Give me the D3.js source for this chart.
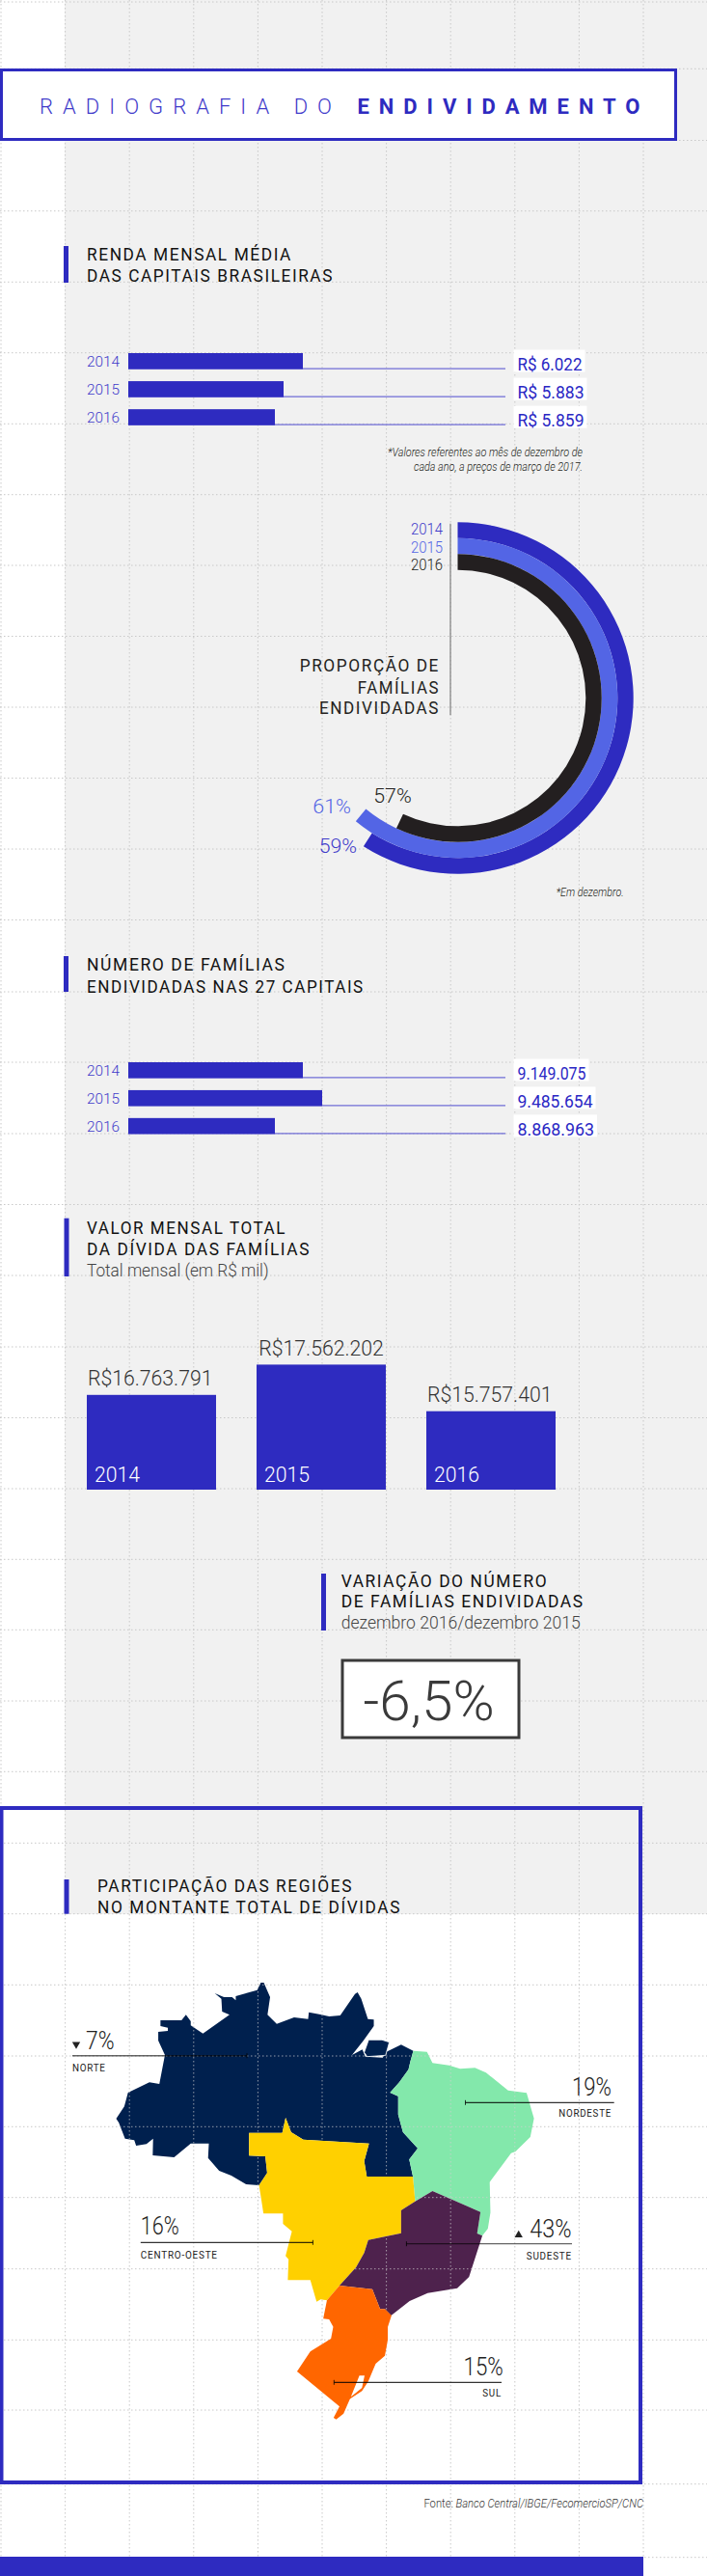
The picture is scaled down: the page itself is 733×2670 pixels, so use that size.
<!DOCTYPE html>
<html>
<head>
<meta charset="utf-8">
<script src="https://cdn.jsdelivr.net/npm/d3@7"></script>
<style>
  body { margin: 0; background: #fff; }
  svg { display: block; }
  text { font-family: Roboto, sans-serif; }
</style>
</head>
<body>
<div id="vis"></div>
<script>
var h = 2670, w = 733; //height and width of the svg

var blue = "#2e2bc0", midBlue = "#3f3bca", lightBlue = "#5365e5", ink = "#231f20";

//values
var years = ["2014", "2015", "2016"];
var rendaValues = [6022, 5883, 5859];
var familiasValues = [9149075, 9485654, 8868963];
var dividaValues = [16763791, 17562202, 15757401];
var proporcaoValues = [59, 61, 57];
var variacaoValue = -6.5;

var regionNames = ["NORTE", "NORDESTE", "CENTRO-OESTE", "SUDESTE", "SUL"];
var regionShares = [7, 19, 16, 43, 15];

//region outlines (map units, see mapX and mapY)
var norteOutline = [[550,105],[558,105],[575,150],[568,205],[593,233],[640,213],[678,218],[680,197],[708,203],[735,210],[765,207],[805,140],[812,135],[822,155],[840,218],[856,220],[856,240],[828,285],[797,330],[825,313],[833,335],[880,338],[890,320],[930,298],[963,317],[955,350],[950,375],[925,415],[900,447],[922,458],[922,515],[935,570],[975,620],[952,655],[962,708],[837,708],[830,660],[843,605],[665,593],[632,570],[617,525],[608,572],[518,572],[518,643],[562,645],[567,697],[545,735],[510,732],[470,705],[437,690],[407,650],[409,605],[360,605],[315,648],[257,642],[258,590],[240,607],[212,612],[207,595],[182,590],[165,540],[158,528],[180,490],[190,447],[248,415],[275,420],[290,330],[272,285],[272,258],[298,255],[298,245],[278,240],[278,222],[335,222],[347,205],[360,225],[360,238],[393,263],[465,205],[445,195],[443,155],[425,138],[450,150],[472,150],[482,160],[482,147],[540,128]];
var marajoOutline = [[830,322],[842,283],[878,283],[898,290],[888,331],[838,335]];
var nordesteOutline = [[963,317],[1000,320],[1015,355],[1060,362],[1090,373],[1130,370],[1160,385],[1220,440],[1270,448],[1290,527],[1280,585],[1240,630],[1228,635],[1170,725],[1172,820],[1165,870],[1150,892],[1136,885],[1145,818],[1015,753],[968,785],[962,708],[952,655],[975,620],[935,570],[922,515],[922,458],[900,447],[925,415],[950,375],[955,350]];
var centroOesteOutline = [[617,525],[632,570],[665,593],[843,605],[830,660],[837,708],[962,708],[968,785],[930,813],[930,884],[841,905],[830,945],[808,990],[763,1047],[729,1093],[712,1090],[701,1097],[684,1030],[623,1030],[625,965],[617,955],[634,878],[610,855],[610,823],[557,823],[550,770],[545,735],[567,697],[562,645],[518,643],[518,572],[608,572]];
var sudesteOutline = [[1015,753],[1145,818],[1136,885],[1150,892],[1114,1020],[1082,1055],[1002,1070],[953,1095],[903,1140],[886,1120],[873,1120],[852,1058],[763,1047],[808,990],[830,945],[841,905],[930,884],[930,813],[968,785]];
var sulOutline = [[763,1047],[852,1058],[873,1120],[886,1120],[904,1140],[894,1175],[894,1215],[886,1265],[861,1290],[841,1345],[824,1375],[794,1397],[791,1400],[774,1445],[754,1463],[747,1458],[763,1423],[648,1314],[684,1252],[740,1212],[746,1175],[735,1152],[719,1150],[729,1093]];
var lagoaOutline = [[817,1327],[831,1327],[824,1365],[794,1393]];

//brazilian number format for the labels
var ptBR = d3.formatLocale({decimal: ",", thousands: ".", grouping: [3], currency: ["R$", ""], minus: "-"});
var fmt = ptBR.format(",d");

var svg = d3.select("#vis")
            .append("svg")
            .attr("width", w)
            .attr("height", h);

//text helper, the width is forced so the line ends where the original does
function addText(parent, str, x, y, size, width, color, opts) {
    opts = opts || {};
    return parent.append("text")
        .attr("x", x)
        .attr("y", y)
        .attr("font-size", size)
        .attr("font-weight", opts.weight || 400)
        .attr("font-style", opts.italic ? "italic" : "normal")
        .attr("letter-spacing", opts.tracking || 0)
        .attr("fill", color)
        .attr("textLength", width)
        .attr("lengthAdjust", opts.spacing ? "spacing" : "spacingAndGlyphs")
        .text(str);
}

//background
svg.append("rect").attr("width", w).attr("height", h).attr("fill", "#fff");
svg.append("rect").attr("x", 67).attr("y", 0).attr("width", w - 67).attr("height", 1984).attr("fill", "#f1f1f1");

//dotted grid
var gridX = d3.range(0, 11).map(function(i) { return 1 + i * 66.6; });
var gridY = [2, 71.3, 145.5, 218.7, 292.3, 365.7, 439.3, 512.7, 586, 659.5, 733, 806.5, 880, 953.5, 1028, 1101, 1175, 1248.5, 1322, 1396, 1469.5, 1543, 1616.3, 1689.3, 1763, 1836.3, 1910.3, 1983.7, 2057.3, 2131, 2204.3, 2277.7, 2351.7, 2425.3, 2498, 2574.7, 2650.7];

function drawGrid(parent, color) {
    parent.selectAll("line.gx").data(gridX).enter().append("line")
        .attr("class", "gx")
        .attr("x1", function(d) { return d; }).attr("x2", function(d) { return d; })
        .attr("y1", 0).attr("y2", 2650)
        .attr("stroke", color).attr("stroke-dasharray", "1.5 2.5");
    parent.selectAll("line.gy").data(gridY).enter().append("line")
        .attr("class", "gy")
        .attr("x1", 0).attr("x2", w)
        .attr("y1", function(d) { return d; }).attr("y2", function(d) { return d; })
        .attr("stroke", color).attr("stroke-dasharray", "1.5 2.5");
}
drawGrid(svg.append("g"), "#c8c8c8");

//title box
svg.append("rect").attr("x", 1.5).attr("y", 72.5).attr("width", 699).attr("height", 72)
    .attr("fill", "#fff").attr("stroke", blue).attr("stroke-width", 3);
addText(svg, "RADIOGRAFIA DO", 41, 118, 22, 303, midBlue, {weight: 300, spacing: true});
addText(svg, "ENDIVIDAMENTO", 370.5, 118, 22, 293, blue, {weight: 700, spacing: true});

//section heading: marker bar plus text lines
function heading(x, y1, y2, textX, lines) {
    svg.append("rect").attr("x", x).attr("y", y1).attr("width", 5).attr("height", y2 - y1).attr("fill", blue);
    lines.forEach(function(l) {
        addText(svg, l[0], textX, l[1], 17.5, l[2], l[3] ? "#444" : "#111", {weight: l[3] ? 300 : 400, tracking: l[3] ? 0 : 1.6});
    });
}

heading(66, 255, 293, 90, [["RENDA MENSAL MÉDIA", 270, 213], ["DAS CAPITAIS BRASILEIRAS", 292, 256]]);
heading(66, 991, 1028, 90, [["NÚMERO DE FAMÍLIAS", 1006.4, 206.5], ["ENDIVIDADAS NAS 27 CAPITAIS", 1028.6, 287.8]]);
heading(66.5, 1262.7, 1323, 90, [["VALOR MENSAL TOTAL", 1279, 207], ["DA DÍVIDA DAS FAMÍLIAS", 1301, 232], ["Total mensal (em R$ mil)", 1322.8, 188.5, true]]);
heading(333, 1631, 1690, 353.7, [["VARIAÇÃO DO NÚMERO", 1644.7, 214.5], ["DE FAMÍLIAS ENDIVIDADAS", 1666, 252], ["dezembro 2016/dezembro 2015", 1688.3, 248, true]]);
heading(66.5, 1948, 1983.7, 101, [["PARTICIPAÇÃO DAS REGIÕES", 1961.3, 265], ["NO MONTANTE TOTAL DE DÍVIDAS", 1983.3, 315]]);

//horizontal bars, used by renda and familias
function hBars(values, labels, labelWidths, domain, range, top, bottom) {
    var y = d3.scaleBand().domain(years).range([top, bottom]).paddingInner(0.431);
    //the original bars are not proportional, so the scale goes through each value
    var x = d3.scaleLinear().domain(domain).range(range);
    var g = svg.append("g");

    g.selectAll("line.base").data(values).enter().append("line")
        .attr("class", "base")
        .attr("x1", 133).attr("x2", 524)
        .attr("y1", function(d, i) { return y(years[i]) + y.bandwidth() - 0.5; })
        .attr("y2", function(d, i) { return y(years[i]) + y.bandwidth() - 0.5; })
        .attr("stroke", "#6f6cd6").attr("stroke-width", 1.2);

    g.selectAll("rect.bar").data(values).enter().append("rect")
        .attr("class", "bar")
        .attr("x", 133)
        .attr("y", function(d, i) { return y(years[i]); })
        .attr("width", function(d) { return x(d); })
        .attr("height", y.bandwidth())
        .attr("fill", blue);

    g.selectAll("rect.bg").data(values).enter().append("rect")
        .attr("class", "bg")
        .attr("x", 532.5)
        .attr("y", function(d, i) { return y(years[i]) - 3.5; })
        .attr("width", function(d, i) { return labelWidths[i] + 7; })
        .attr("height", y.bandwidth() + 6.5)
        .attr("fill", "#fff");

    years.forEach(function(yr, i) {
        addText(g, yr, 90, y(yr) + 14, 15.5, 34, midBlue, {weight: 300});
        addText(g, labels[i], 536.5, y(yr) + y.bandwidth() + 1.5, 17.5, labelWidths[i], "#2a27c4");
    });
}

hBars(rendaValues,
    rendaValues.map(function(d) { return "R$ " + fmt(d); }),
    [67, 69, 69],
    [5859, 5883, 6022], [152, 161, 181], 366, 440.7);

hBars(familiasValues,
    familiasValues.map(fmt),
    [71, 78, 79.5],
    [8868963, 9149075, 9485654], [152, 181, 201], 1101, 1175.3);

addText(svg, "*Valores referentes ao mês de dezembro de", 402, 473, 12, 202, ink, {italic: true, weight: 300});
addText(svg, "cada ano, a preços de março de 2017.", 429, 487.7, 12, 175, ink, {italic: true, weight: 300});

//proportion rings, each year is one ring of the same circle
var ringColors = [blue, lightBlue, ink];
var angle = d3.scaleLinear().domain([0, 100]).range([0, 2 * Math.PI]);
var ring = d3.scaleBand().domain(years).range([182.2, 132.8]);
var arc = d3.arc()
    .innerRadius(function(d) { return ring(d.year); })
    .outerRadius(function(d) { return ring(d.year) + ring.bandwidth(); })
    .startAngle(0)
    .endAngle(function(d) { return angle(d.value); });

svg.append("g")
    .attr("transform", "translate(474.5,723.5)")
    .selectAll("path")
    .data(years.map(function(yr, i) { return {year: yr, value: proporcaoValues[i]}; }))
    .enter()
    .append("path")
    .attr("d", arc)
    .attr("fill", function(d, i) { return ringColors[i]; });

svg.append("line").attr("x1", 467).attr("x2", 467).attr("y1", 542.7).attr("y2", 741.3)
    .attr("stroke", "#888").attr("stroke-width", 1.3);

addText(svg, years[0], 426, 554.3, 16, 33, midBlue, {weight: 300});
addText(svg, years[1], 426, 573.3, 16, 33, lightBlue, {weight: 300});
addText(svg, years[2], 426, 591, 16, 33, ink, {weight: 300});

addText(svg, "PROPORÇÃO DE", 310.7, 695.7, 17.5, 145.3, ink, {tracking: 1.6});
addText(svg, "FAMÍLIAS", 370.7, 718.7, 17.5, 85.3, ink, {tracking: 1.6});
addText(svg, "ENDIVIDADAS", 331, 740.3, 17.5, 125, ink, {tracking: 1.6});

addText(svg, proporcaoValues[2] + "%", 387.3, 831.7, 21, 39.4, ink, {weight: 300});
addText(svg, proporcaoValues[1] + "%", 324.3, 843.3, 21, 39.7, lightBlue, {weight: 300});
addText(svg, proporcaoValues[0] + "%", 330.7, 884, 21, 39.3, midBlue, {weight: 300});
addText(svg, "*Em dezembro.", 576.7, 929, 12, 70, ink, {italic: true, weight: 300});

//total debt bars
var debtX = d3.scaleBand().domain(years).range([90, 576]).paddingInner(0.2386);
//same as above, the heights only follow the order of the values
var debtH = d3.scaleLinear().domain([15757401, 16763791, 17562202]).range([81.3, 98.2, 129.6]);
var debtBottom = 1544;

svg.append("g").selectAll("rect")
    .data(dividaValues)
    .enter()
    .append("rect")
    .attr("x", function(d, i) { return debtX(years[i]); })
    .attr("y", function(d) { return debtBottom - debtH(d); })
    .attr("width", debtX.bandwidth())
    .attr("height", function(d) { return debtH(d); })
    .attr("fill", blue);

years.forEach(function(yr, i) {
    var x0 = debtX(yr);
    addText(svg, "R$" + fmt(dividaValues[i]), x0 + (i == 0 ? 1 : i == 1 ? 2.3 : 1), debtBottom - debtH(dividaValues[i]) - 9.7, 22, 129.5, "#333", {weight: 300});
    addText(svg, yr, x0 + 8, 1536, 22, 47, "#fff", {weight: 300});
});

//variation box
svg.append("rect").attr("x", 355).attr("y", 1721).attr("width", 183).attr("height", 80)
    .attr("fill", "#fff").attr("stroke", "#3a3a3a").attr("stroke-width", 3);
addText(svg, ptBR.format(".1f")(variacaoValue) + "%", 376.6, 1783, 58, 136, "#3a3a3a", {weight: 300});

//map, the units come from the trace of the outlines
var mapX = d3.scaleLinear().domain([0, 1568]).range([60, 660]);
var mapY = d3.scaleLinear().domain([0, 900]).range([2020, 2320]);
var outline = d3.line()
    .x(function(d) { return mapX(d[0]); })
    .y(function(d) { return mapY(d[1]); })
    .curve(d3.curveLinearClosed);

var regionColors = ["#00214f", "#84e8ab", "#ffd000", "#4f234e", "#ff6600"];
var regionOutlines = [norteOutline, nordesteOutline, centroOesteOutline, sudesteOutline, sulOutline];

var mapG = svg.append("g");
mapG.selectAll("path.region")
    .data(regionOutlines)
    .enter()
    .append("path")
    .attr("class", "region")
    .attr("d", outline)
    .attr("fill", function(d, i) { return regionColors[i]; });
mapG.append("path").attr("d", outline(marajoOutline))
    .attr("fill", regionColors[0]).attr("stroke", "#fff").attr("stroke-width", 0.8);
mapG.append("path").attr("d", outline(lagoaOutline)).attr("fill", "#fff");

//the grid stays visible on the darker regions
var clip = svg.append("clipPath").attr("id", "mapClip");
[norteOutline, nordesteOutline, sudesteOutline].forEach(function(o) {
    clip.append("path").attr("d", outline(o));
});
drawGrid(svg.append("g").attr("clip-path", "url(#mapClip)").attr("opacity", 0.7), "#d0d0d0");

//region labels
var regionLabels = [
    {sx: 89, sy: 2124.3, sw: 29.5, lx1: 256, lx2: 75, ly: 2130.7, nx: 75, ny: 2147.3, nw: 34.7, op: 0.6, lw: 1.6},
    {sx: 593, sy: 2172.3, sw: 41, lx1: 482.5, lx2: 636.7, ly: 2179.3, nx: 579.3, ny: 2194.3, nw: 54.7, op: 1, lw: 1},
    {sx: 145.8, sy: 2316, sw: 40, lx1: 324.4, lx2: 145.8, ly: 2324.3, nx: 145.8, ny: 2341, nw: 80, op: 1, lw: 1},
    {sx: 549.3, sy: 2319.3, sw: 43.3, lx1: 421.4, lx2: 593, ly: 2325.7, nx: 545.8, ny: 2342.3, nw: 47, op: 0.6, lw: 1.3},
    {sx: 480.6, sy: 2461.7, sw: 41.2, lx1: 346.3, lx2: 520, ly: 2469.3, nx: 500.3, ny: 2484, nw: 19.7, op: 1, lw: 1}
];

regionLabels.forEach(function(l, i) {
    addText(svg, regionShares[i] + "%", l.sx, l.sy, 26, l.sw, "#222", {weight: 300});
    addText(svg, regionNames[i], l.nx, l.ny, 10.5, l.nw, "#222", {tracking: 0.8});
    svg.append("line").attr("x1", l.lx1).attr("x2", l.lx2).attr("y1", l.ly).attr("y2", l.ly)
        .attr("stroke", "#000").attr("stroke-opacity", l.op).attr("stroke-width", l.lw);
    svg.append("line").attr("x1", l.lx1).attr("x2", l.lx1).attr("y1", l.ly - 2.5).attr("y2", l.ly + 2.5)
        .attr("stroke", "#000").attr("stroke-width", 0.8);
});

//arrows: norte goes down, sudeste goes up
var triangle = d3.symbol().type(d3.symbolTriangle).size(30);
svg.append("path").attr("d", triangle).attr("transform", "translate(79,2119) rotate(180)").attr("fill", "#222");
svg.append("path").attr("d", triangle).attr("transform", "translate(537.7,2316.5)").attr("fill", "#222");

//frame around the map, the stroke is 4 wide
svg.append("rect").attr("x", 1.5).attr("y", 1874).attr("width", 662.5).attr("height", 699)
    .attr("fill", "none").attr("stroke", blue).attr("stroke-width", 4);

//source
var fonte = svg.append("text").attr("x", 439.4).attr("y", 2599).attr("font-size", 13)
    .attr("fill", "#333").attr("font-weight", 300)
    .attr("textLength", 227.6).attr("lengthAdjust", "spacingAndGlyphs");
fonte.append("tspan").text("Fonte: ");
fonte.append("tspan").attr("font-style", "italic").text("Banco Central/IBGE/FecomercioSP/CNC");

//bottom band
svg.append("rect").attr("x", 0).attr("y", 2650).attr("width", 667).attr("height", 20).attr("fill", blue);
</script>
</body>
</html>
